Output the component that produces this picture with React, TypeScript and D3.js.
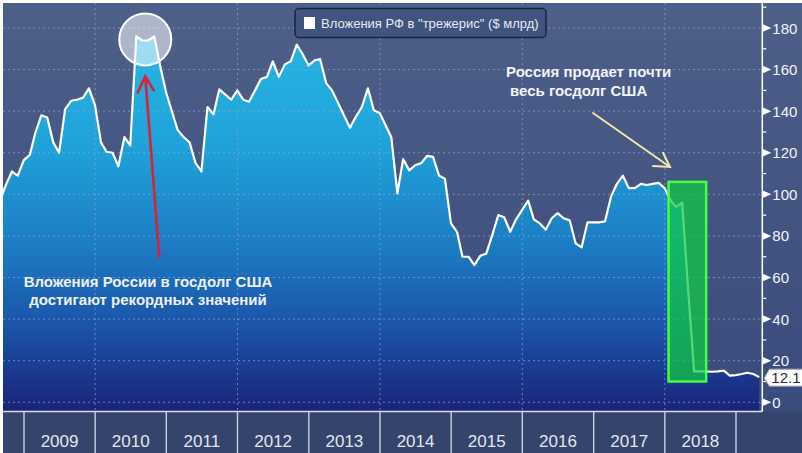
import React from "react";
import * as d3 from "d3";

// ---- data (Russia's holdings of US Treasuries, $ bn, month-end) ----
const startMonth = "2008-08";
const values: number[] = [
  97, 104.5, 111, 109, 116.5,
  119, 129.5, 138, 137, 125, 120, 141, 145, 145.5, 146.5, 151, 143,
  125, 120.5, 120, 113.5, 127.5, 123.5, 176, 174, 174, 176, 162, 149,
  139.5, 131, 127.5, 125, 115, 111, 142, 138.5, 150.5, 148, 145.5, 150,
  145.5, 144.5, 150, 155.5, 156.5, 164, 156.5, 162.5, 164, 172, 167.5, 162,
  164.5, 165, 153.5, 150, 144, 138, 132, 137.5, 142, 151, 140.5, 139,
  133, 127.5, 100.5, 117, 111.5, 114, 115, 118.5, 118, 109, 107.5, 86,
  82, 70, 70, 66, 70.5, 71.5, 80.5, 90, 89, 82, 88, 92.5,
  97, 88, 86, 83, 88.5, 91, 88.5, 87.5, 76.5, 74.5, 86.5, 86.5,
  86.5, 87, 99, 105, 109, 103, 103, 105, 104.5, 105, 105.5, 103,
  97, 94, 96, 55, 14.9, 14.9, 14.8, 14.7, 14.9, 15.2, 12.8, 13.1,
  13.6, 14.2, 13.6, 12.1,
];
const years = [2009, 2010, 2011, 2012, 2013, 2014, 2015, 2016, 2017, 2018];
const yearBounds = [2009, 2010, 2011, 2012, 2013, 2014, 2015, 2016, 2017, 2018, 2019];
const gridYears = [2010, 2012, 2014, 2016, 2018];
const majorTicks = [0, 20, 40, 60, 80, 100, 120, 140, 160, 180];
const minorTicks = [10, 30, 50, 70, 90, 110, 130, 150, 170, 190];
const legendLabel = 'Вложения РФ в "трежерис" ($ млрд)';
const noteRecord = ["Вложения России в госдолг США", "достигают рекордных значений"];
const noteSell = ["Россия продает почти", "весь госдолг США"];

// month-end dates
const [sy, sm] = startMonth.split("-").map(Number);
const points = values.map((v, i) => ({ date: new Date(sy, sm + i, 0), value: v }));

const W = 802;
const H = 453;
const PL = 3, PR = 762.3, PT = 3, PB = 411.5;

export default function App() {
  const x = d3.scaleTime()
    .domain([new Date(2009, 0, 1), new Date(2019, 0, 1)])
    .range([24, 736]);
  const y = d3.scaleLinear().domain([0, 180]).range([402.3, 28]);

  const area = d3.area<{ date: Date; value: number }>()
    .x((d) => x(d.date))
    .y0(PB)
    .y1((d) => y(d.value));
  const line = d3.line<{ date: Date; value: number }>()
    .x((d) => x(d.date))
    .y((d) => y(d.value));

  const last = points[points.length - 1];
  const yl = y(last.value);
  const yr = (yy: number) => x(new Date(yy, 0, 1));

  // annotation anchors in data space
  const peakDate = new Date(2010, 8, 15);
  const cx = x(peakDate);
  const cy = y(174.5);

  const sellStart = new Date(2018, 0, 20);
  const sellEnd = new Date(2018, 7, 1);

  const font = "'Liberation Sans', Arial, sans-serif";

  return (
    <svg width={W} height={H} style={{ position: "absolute", left: 0, top: 0, display: "block" }}>
      <defs>
        <linearGradient id="bg" x1="0" y1="0" x2="0" y2="1">
          <stop offset="0%" stopColor="#4e5f89" />
          <stop offset="100%" stopColor="#38487a" />
        </linearGradient>
        <linearGradient id="areaG" gradientUnits="userSpaceOnUse" x1="0" y1={PT} x2="0" y2={PB}>
          <stop offset="0%" stopColor="#2abbe6" />
          <stop offset="35%" stopColor="#1fa2d9" />
          <stop offset="60%" stopColor="#1c7bc2" />
          <stop offset="80%" stopColor="#1b52a8" />
          <stop offset="100%" stopColor="#1a2378" />
        </linearGradient>
        <clipPath id="plotClip">
          <rect x={PL} y={PT} width={PR - PL} height={PB - PT} />
        </clipPath>
      </defs>

      {/* page frame */}
      <rect x={0} y={0} width={W} height={H} fill="#ffffff" />
      <rect x={PL} y={PT} width={W - PL} height={H - PT} fill="url(#bg)" />
      {/* bottom band */}
      <rect x={PL} y={PB} width={W - PL} height={H - PB} fill="#34446c" />

      <g clipPath="url(#plotClip)">
        <path d={area(points) ?? ""} fill="url(#areaG)" />
        {majorTicks.map((t) => (
          <line key={"g" + t} x1={PL} x2={PR} y1={y(t)} y2={y(t)}
            stroke="#8fa2cc" strokeOpacity={0.7} strokeWidth={1} strokeDasharray="2,3" />
        ))}
        {gridYears.map((g) => (
          <line key={"v" + g} x1={yr(g)} x2={yr(g)} y1={PT} y2={PB}
            stroke="#8fa2cc" strokeOpacity={0.7} strokeWidth={1} strokeDasharray="2,3" />
        ))}
        <path d={line(points) ?? ""} fill="none" stroke="#ffffff" strokeWidth={2.2} strokeLinejoin="round" />
      </g>

      {/* plot border */}
      <line x1={PL} x2={PR} y1={PB} y2={PB} stroke="#d8deea" strokeWidth={1.5} />
      <line x1={PR} x2={PR} y1={PT} y2={PB} stroke="#ffffff" strokeWidth={1.5} />

      {/* right axis */}
      {minorTicks.map((t) => (
        <line key={"m" + t} x1={PR} x2={PR + 4} y1={y(t)} y2={y(t)} stroke="#ffffff" strokeWidth={1.2} />
      ))}
      {majorTicks.map((t) => (
        <g key={"t" + t} transform={`translate(${PR},${y(t)})`}>
          <path d="M0,-4 L9,0 L0,4 Z" fill="#ffffff" />
          <text x={10} y={5.5} fill="#f2f4f8" fontSize={15} fontFamily={font}>{t}</text>
        </g>
      ))}

      {/* bottom year axis */}
      {yearBounds.map((b) => (
        <line key={"b" + b} x1={yr(b)} x2={yr(b)} y1={PB} y2={H} stroke="#c9d1e2" strokeWidth={1.4} />
      ))}
      {years.map((yy) => (
        <text key={"y" + yy} x={(yr(yy) + yr(yy + 1)) / 2} y={447} textAnchor="middle"
          fill="#e1e6f0" fontSize={17} fontFamily="'Liberation Sans Narrow', 'Arial Narrow', sans-serif">{yy}</text>
      ))}

      {/* last value label */}
      <g>
        <path d={`M${PR + 2},${yl + 1} L${PR + 7},${yl - 8} L${W + 2},${yl - 8} L${W + 2},${yl + 9} L${PR + 7},${yl + 9} Z`}
          fill="#ffffff" stroke="#9aa3b5" strokeWidth={1} />
        <text x={PR + 9} y={yl + 6} fill="#2b2b2b" fontSize={15} fontFamily={font}>{d3.format(".1f")(last.value)}</text>
      </g>

      {/* legend */}
      <g>
        <rect x={295} y={8.5} width={251} height={29} rx={4} fill="#41537f" stroke="#1b2442" strokeWidth={1.5} />
        <rect x={304} y={17} width={11} height={12} fill="#ffffff" />
        <text x={321} y={28} fill="#e6e9f1" fontSize={13} fontFamily={font}>{legendLabel}</text>
      </g>

      {/* record annotation */}
      <circle cx={cx} cy={cy} r={26} fill="#ffffff" fillOpacity={0.55} stroke="#ffffff" strokeWidth={2} />
      <g stroke="#dc1f3a" strokeWidth={2.6} fill="none" strokeLinecap="round">
        <line x1={159.3} y1={257} x2={cx} y2={cy + 37} />
        <polyline points={`${cx - 7.5},${cy + 53} ${cx},${cy + 37} ${cx + 8.5},${cy + 51}`} />
      </g>
      {noteRecord.map((s, i) => (
        <text key={"r" + i} x={148} y={286.5 + i * 18.5} textAnchor="middle" fill="#eef2f8"
          fontSize={15} fontWeight="bold" fontFamily={font}>{s}</text>
      ))}

      {/* selling annotation */}
      {noteSell.map((s, i) => (
        <text key={"s" + i} x={506 + i * 4} y={77.3 + i * 18.7} fill="#f1f3f6"
          fontSize={15} fontWeight="bold" fontFamily={font}>{s}</text>
      ))}
      <g stroke="#efe7ac" strokeWidth={2} fill="none" strokeLinecap="round">
        <line x1={593} y1={113} x2={670} y2={167} />
        <polyline points="653,166 670,167 663,152.7" />
      </g>
      <rect x={x(sellStart)} y={y(106)} width={x(sellEnd) - x(sellStart)} height={y(10) - y(106)}
        fill="#10cc44" fillOpacity={0.72} stroke="#44ff44" strokeWidth={2.5} />
    </svg>
  );
}
